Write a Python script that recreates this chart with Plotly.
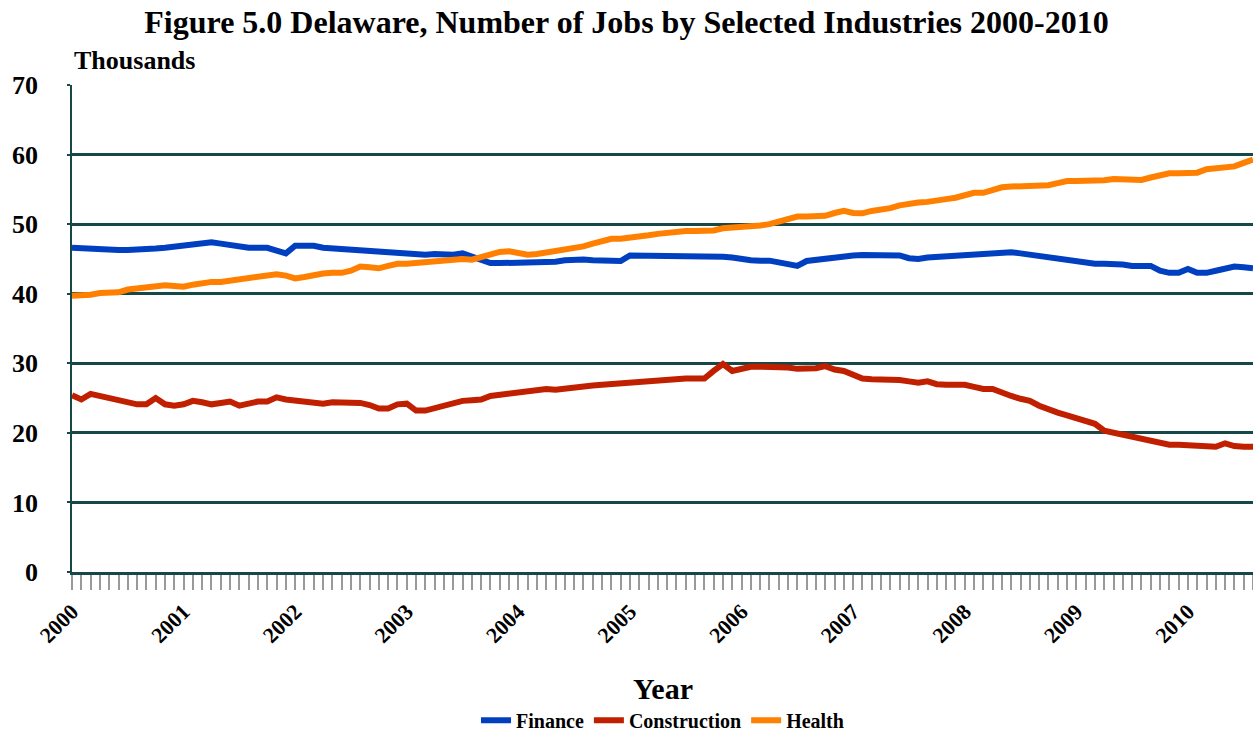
import plotly.graph_objects as go

# Monthly observations, January 2000 onward (thousands of jobs)
years = [str(y) for y in range(2000, 2011)]

finance = [
    46.6, 46.5, 46.5, 46.4, 46.3, 46.3, 46.3, 46.3, 46.5, 46.5, 46.6, 46.8,
    47.0, 47.1, 47.3, 47.4, 47.2, 47.0, 46.7, 46.6, 46.6, 46.6, 46.2, 45.8,
    46.9, 47.0, 46.9, 46.6, 46.5, 46.5, 46.3, 46.3, 46.3, 46.2, 46.0, 45.9,
    45.8, 45.6, 45.6, 45.7, 45.6, 45.6, 45.8, 45.3, 44.8, 44.4, 44.4, 44.4,
    44.5, 44.6, 44.6, 44.6, 44.6, 44.8, 44.9, 44.9, 44.8, 44.7, 44.7, 44.7,
    45.5, 45.5, 45.3, 45.3, 45.3, 45.3, 45.3, 45.3, 45.3, 45.3, 45.3, 45.2,
    44.9, 44.8, 44.75, 44.75, 44.5, 44.2, 44.0, 44.7, 44.9, 44.9, 45.1, 45.3,
    45.5, 45.55, 45.55, 45.55, 45.55, 45.5, 45.1, 45.0, 45.2, 45.3, 45.3, 45.4,
    45.5, 45.7, 45.8, 45.9, 45.95, 45.95, 45.8, 45.6, 45.5, 45.3, 45.1, 44.9,
    44.7, 44.5, 44.3, 44.3, 44.3, 44.2, 44.0, 44.0, 44.0, 43.3, 43.0, 43.0,
    43.55, 43.0, 43.0, 43.3, 43.55, 43.9, 43.8, 43.65,
]

construction = [
    25.4, 24.8, 25.6, 25.3, 25.0, 24.9, 24.4, 24.1, 24.1, 25.0, 24.1, 23.9,
    24.1, 24.6, 24.4, 24.1, 24.3, 24.5, 23.9, 24.3, 24.5, 24.5, 25.1, 24.8,
    24.7, 24.6, 24.3, 24.2, 24.4, 24.4, 24.4, 24.3, 24.0, 23.5, 23.5, 24.1,
    24.2, 23.2, 23.2, 23.6, 23.9, 24.3, 24.6, 24.7, 24.8, 25.3, 25.5, 25.6,
    25.7, 25.9, 26.2, 26.3, 26.2, 26.4, 26.6, 26.7, 26.8, 26.9, 27.0, 27.1,
    27.2, 27.3, 27.4, 27.7, 27.8, 27.8, 27.8, 27.8, 27.8, 28.9, 29.9, 28.9,
    29.2, 29.5, 29.5, 29.5, 29.5, 29.4, 29.2, 29.2, 29.3, 29.6, 29.1, 28.9,
    28.3, 27.8, 27.7, 27.7, 27.7, 27.6, 27.4, 27.2, 27.4, 27.0, 26.9, 26.9,
    26.9, 26.6, 26.3, 26.3, 25.7, 25.3, 24.9, 24.6, 23.9, 23.3, 22.9, 22.5,
    22.1, 21.8, 21.3, 20.3, 20.0, 19.8, 19.5, 19.2, 18.7, 18.4, 18.3, 18.3,
    18.2, 18.0, 18.0, 18.0, 18.5, 18.1, 18.0, 18.0,
]

health = [
    39.7, 39.75, 39.85, 40.1, 40.15, 40.2, 40.6, 40.8, 41.0, 41.1, 41.2, 41.1,
    41.0, 41.3, 41.6, 41.7, 41.7, 41.9, 42.2, 42.4, 42.6, 42.8, 42.8, 42.6,
    42.2, 42.4, 42.7, 42.9, 43.0, 43.0, 43.3, 43.9, 43.8, 43.65, 44.0, 44.3,
    44.3, 44.4, 44.6, 44.8, 44.9, 44.95, 45.0, 44.9, 45.3, 45.7, 46.0, 46.1,
    45.9, 45.6, 45.7, 45.9, 46.2, 46.5, 46.7, 46.8, 47.2, 47.6, 47.9, 47.9,
    48.0, 48.1, 48.4, 48.6, 48.8, 49.0, 49.0, 49.0, 49.0, 49.1, 49.4, 49.5,
    49.5, 49.5, 49.8, 50.0, 50.4, 50.8, 51.1, 51.1, 51.1, 51.2, 51.6, 51.9,
    51.6, 51.55, 51.9, 52.0, 52.3, 52.7, 53.0, 53.1, 53.2, 53.3, 53.6, 53.8,
    54.2, 54.5, 54.5, 54.9, 55.3, 55.4, 55.4, 55.5, 55.6, 55.6, 55.9, 56.2,
    56.2, 56.2, 56.2, 56.3, 56.5, 56.4, 56.35, 56.35, 56.7, 57.1, 57.3, 57.3,
    57.3, 57.4, 57.9, 58.0, 58.0, 58.3, 58.8, 59.3,
]

months = list(range(len(finance)))
tick_text = [f"<b>{years[i // 12]}</b>" if i % 12 == 0 else "" for i in months]

SERIF = "Liberation Serif, Times New Roman, serif"
GRID = "#174848"

fig = go.Figure()
for name, vals, color in [
    ("Finance", finance, "#0040c0"),
    ("Construction", construction, "#c02000"),
    ("Health", health, "#ff8000"),
]:
    fig.add_trace(go.Scatter(
        x=months, y=vals, name=f"<b>{name}</b>", mode="lines",
        line=dict(color=color, width=6),
    ))

fig.update_layout(
    width=1253, height=738,
    margin=dict(l=72, r=0, t=85, b=166),
    paper_bgcolor="white", plot_bgcolor="white",
    font=dict(family=SERIF, color="black"),
    title=dict(
        text="<b>Figure 5.0 Delaware, Number of Jobs by Selected Industries 2000-2010</b>",
        x=0.5, xanchor="center", yref="container", y=0.970, yanchor="middle",
        font=dict(size=32, family=SERIF, color="black"),
    ),
    showlegend=True,
    legend=dict(
        orientation="h", x=0.5, xanchor="center",
        yref="container", y=0.024, yanchor="middle",
        font=dict(size=20, family=SERIF, color="black"),
        itemwidth=30, traceorder="normal", tracegroupgap=0,
    ),
    annotations=[
        dict(text="<b>Thousands</b>", xref="paper", yref="paper",
             x=0.0, y=1.051, xanchor="left", yanchor="middle", showarrow=False,
             font=dict(size=26, family=SERIF, color="black")),
        dict(text="<b>Year</b>", xref="paper", yref="paper",
             x=0.5, y=-0.239, xanchor="center", yanchor="middle", showarrow=False,
             font=dict(size=30, family=SERIF, color="black")),
    ],
)

fig.update_xaxes(
    range=[0, months[-1]], automargin=False,
    tickmode="array", tickvals=months, ticktext=tick_text,
    tickangle=-45,
    ticks="outside", ticklen=15, tickwidth=1.5, tickcolor="#999999",
    tickfont=dict(size=22, family=SERIF, color="black"),
    showgrid=False, zeroline=False,
    showline=True, linecolor=GRID, linewidth=3,
)
fig.update_yaxes(
    range=[0, 70], dtick=10, automargin=False,
    tickprefix="<b>", ticksuffix="</b>",
    tickfont=dict(size=26, family=SERIF, color="black"),
    ticks="outside", ticklen=3, tickcolor=GRID, tickwidth=2,
    ticklabelstandoff=24,
    showgrid=True, gridcolor=GRID, gridwidth=2.5,
    zeroline=False,
    showline=True, linecolor=GRID, linewidth=1.5,
)

fig.write_html("out.html")
